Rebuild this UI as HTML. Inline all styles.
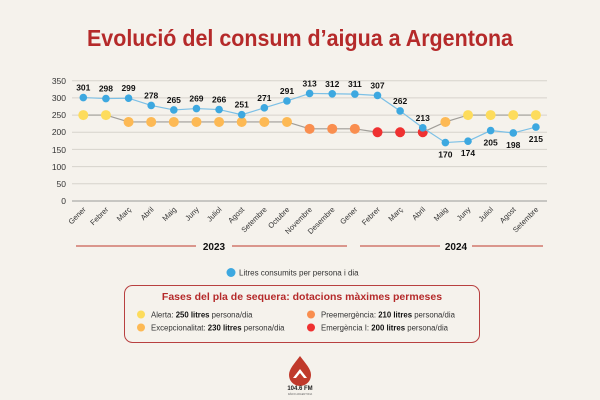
<!DOCTYPE html>
<html><head><meta charset="utf-8"><style>
body{margin:0;background:#f5f2ec;}
svg{display:block;font-family:"Liberation Sans",sans-serif;}
</style></head><body>
<svg width="600" height="400" viewBox="0 0 600 400">
<rect width="600" height="400" fill="#f5f2ec"/>
<text x="300" y="46" text-anchor="middle" font-size="23" font-weight="bold" fill="#b52a2a" textLength="426" lengthAdjust="spacingAndGlyphs">Evolució del consum d’aigua a Argentona</text>
<g stroke="#d6d3cc" stroke-width="1">
<line x1="72" x2="547" y1="80.7" y2="80.7"/><line x1="72" x2="547" y1="97.9" y2="97.9"/><line x1="72" x2="547" y1="115.1" y2="115.1"/><line x1="72" x2="547" y1="132.3" y2="132.3"/><line x1="72" x2="547" y1="149.4" y2="149.4"/><line x1="72" x2="547" y1="166.6" y2="166.6"/><line x1="72" x2="547" y1="183.8" y2="183.8"/>
</g>
<line x1="72" x2="547" y1="201" y2="201" stroke="#999" stroke-width="1"/>
<g font-size="8.5" fill="#333" text-anchor="end">
<text x="66" y="84">350</text><text x="66" y="101">300</text><text x="66" y="118">250</text><text x="66" y="135">200</text><text x="66" y="153">150</text><text x="66" y="170">100</text><text x="66" y="187">50</text><text x="66" y="204">0</text>
</g>
<g id="ch"></g>
<g stroke="#c0392b" stroke-width="1"><line x1="76" x2="196" y1="246" y2="246"/><line x1="232" x2="347" y1="246" y2="246"/><line x1="360" x2="440" y1="246" y2="246"/><line x1="472" x2="543" y1="246" y2="246"/></g>
<text x="214" y="250" text-anchor="middle" font-size="10" font-weight="bold" fill="#111">2023</text>
<text x="456" y="250" text-anchor="middle" font-size="10" font-weight="bold" fill="#111">2024</text>
<circle cx="231" cy="272.5" r="4.5" fill="#3da8e0"/>
<text x="239" y="275.5" font-size="8" fill="#333">Litres consumits per persona i dia</text>
<rect x="124.5" y="285.5" width="355" height="57" rx="8" fill="none" stroke="#b84040" stroke-width="1"/>
<text x="302" y="300" text-anchor="middle" font-size="10.5" font-weight="bold" fill="#b52a2a">Fases del pla de sequera: dotacions màximes permeses</text>
<g font-size="7.8" fill="#333">
<circle cx="141" cy="314.5" r="4" fill="#fddc5c"/><text x="151" y="317.5">Alerta: <tspan font-weight="bold" fill="#111">250 litres</tspan> persona/dia</text>
<circle cx="141" cy="327.5" r="4" fill="#fdb954"/><text x="151" y="330.5">Excepcionalitat: <tspan font-weight="bold" fill="#111">230 litres</tspan> persona/dia</text>
<circle cx="311" cy="314.5" r="4" fill="#f98e4f"/><text x="321" y="317.5">Preemergència: <tspan font-weight="bold" fill="#111">210 litres</tspan> persona/dia</text>
<circle cx="311" cy="327.5" r="4" fill="#ef3131"/><text x="321" y="330.5">Emergència I: <tspan font-weight="bold" fill="#111">200 litres</tspan> persona/dia</text>
</g>
<path d="M300 356 C306 364 311 369 311 375 A11 11 0 0 1 289 375 C289 369 294 364 300 356Z" fill="#c0392b"/>
<path d="M293 378 L300 369 L307 378 L304 378 L300 373 L296 378Z" fill="#fff"/>
<text x="300" y="390" text-anchor="middle" font-size="6" font-weight="bold" fill="#222">104.6 FM</text>
<text x="300" y="395" text-anchor="middle" font-size="2.5" fill="#666">RÀDIO ARGENTONA</text>
</svg>
<script>
const v=[301,298,299,278,265,269,266,251,271,291,313,312,311,307,262,213,170,174,205,198,215];
const l=[250,250,230,230,230,230,230,230,230,230,210,210,210,200,200,200,230,250,250,250,250];
const m=["Gener","Febrer","Març","Abril","Maig","Juny","Juliol","Agost","Setembre","Octubre","Novembre","Desembre","Gener","Febrer","Març","Abril","Maig","Juny","Juliol","Agost","Setembre"];
const X=i=>83.3+i*22.63, Y=d=>201-d*0.3437;
const col={250:"#fddc5c",230:"#fdb954",210:"#f98e4f",200:"#ef3131"};
let s="";
s+=`<polyline fill="none" stroke="#a09d98" stroke-width="1.2" points="${l.map((d,i)=>X(i)+","+Y(d)).join(" ")}"/>`;
l.forEach((d,i)=>s+=`<circle cx="${X(i)}" cy="${Y(d)}" r="5" fill="${col[d]}"/>`);
s+=`<polyline fill="none" stroke="#7cc0e6" stroke-width="1.2" points="${v.map((d,i)=>X(i)+","+Y(d)).join(" ")}"/>`;
v.forEach((d,i)=>{s+=`<circle cx="${X(i)}" cy="${Y(d)}" r="3.8" fill="#3da8e0"/>`;
 const below=i>=16; s+=`<text x="${X(i)}" y="${below?Y(d)+15:Y(d)-7}" text-anchor="middle" font-size="8.5" font-weight="bold" fill="#111">${d}</text>`;});
m.forEach((t,i)=>s+=`<text transform="translate(${X(i)+3},${210}) rotate(-45)" text-anchor="end" font-size="7.5" fill="#333">${t}</text>`);
document.getElementById("ch").innerHTML=s;
</script>
</body></html>
